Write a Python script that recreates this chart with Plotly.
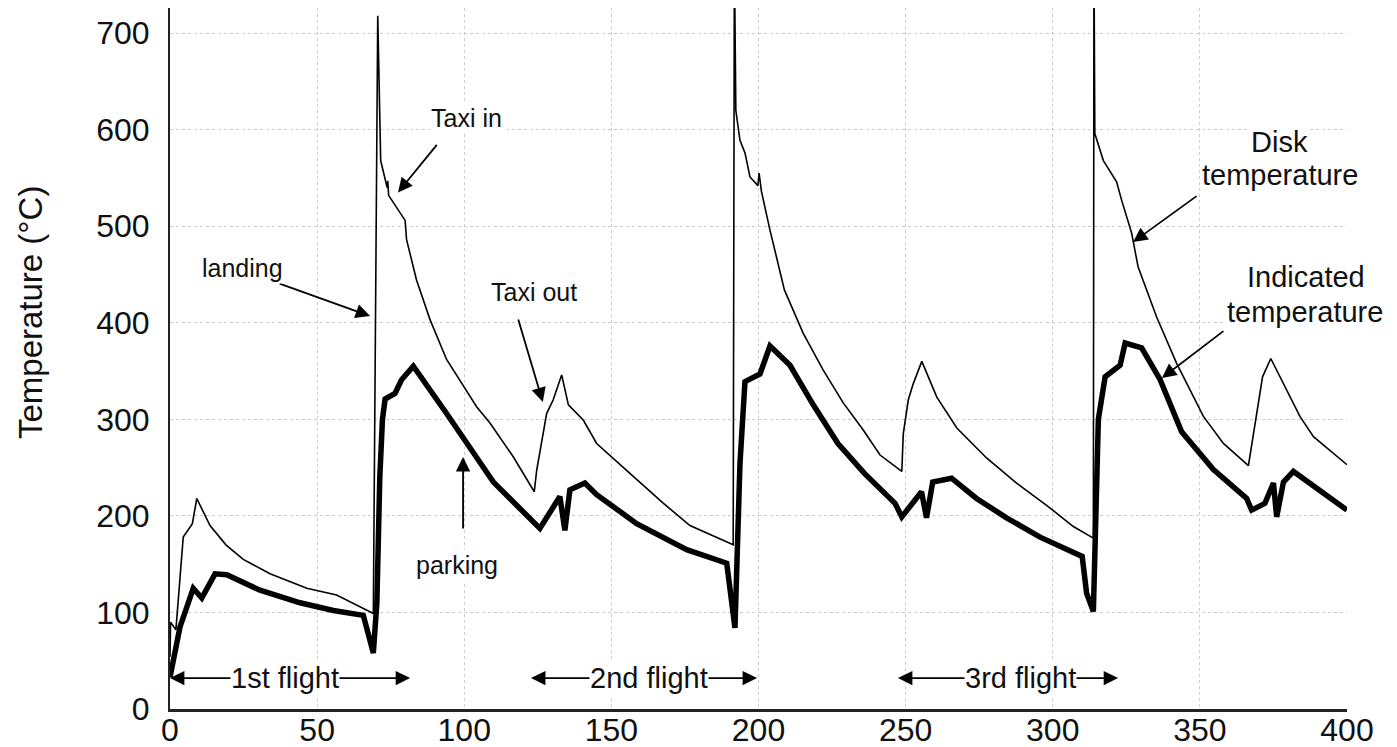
import plotly.graph_objects as go

# ---------------- data ----------------
disk_x = [0, 0.2, 2.0, 4.5, 7.6, 9.1, 13.6, 19.0, 24.9, 34.0, 46.5, 56.6, 69.1,
          70.6, 71.6, 73.8, 74.0, 74.3, 79.9, 80.4, 83.8, 88.4, 94.0, 100.8, 104.2,
          108.8, 116.7, 123.8, 124.6, 128.0, 130.2, 133.1, 135.4, 140.5, 145.0,
          156.3, 167.7, 176.7, 191.4, 191.8, 192.3, 193.7, 195.4, 197.1, 199.8,
          200.2, 201.0, 203.9, 208.8, 215.2, 222.0, 228.8, 235.6, 241.3, 248.7,
          249.2, 250.9, 252.6, 255.5, 260.6, 267.4, 277.5, 287.7, 297.9, 307.0,
          313.8, 314.0, 314.3, 317.2, 321.7, 323.4, 326.8, 329.0, 335.3, 342.1,
          351.2, 358.0, 366.5, 371.0, 371.3, 374.1, 379.5, 384.0, 388.6, 394.2, 400.0]
disk_y = [54, 90, 82, 178, 192, 218, 190, 170, 155, 140, 125, 118, 99,
          718, 568, 540, 547, 532, 506, 486, 444, 403, 362, 330, 313,
          296, 261, 225, 247, 306, 320, 346, 315, 299, 275,
          244, 213, 190, 170, 780, 620, 589, 576, 551, 542,
          555, 536, 496, 434, 389, 351, 317, 289, 263, 246,
          285, 320, 337, 360, 323, 291, 260, 234, 211, 189,
          177, 780, 596, 568, 546, 527, 493, 458, 406, 358,
          303, 275, 252, 341, 344, 363, 330, 303, 282, 268, 253]

ind_x = [0, 3.4, 7.9, 10.8, 15.3, 19.3, 30.6, 44.2, 55.5, 65.7, 69.1, 70.3, 71.3,
         72.2, 73.1, 76.5, 78.7, 82.7, 94.0, 109.9, 125.7, 132.5, 134.2, 135.9,
         141.0, 145.0, 158.6, 175.6, 189.2, 192.0, 193.7, 195.4, 200.5, 203.9,
         210.7, 218.6, 227.0, 236.0, 246.4, 248.7, 255.4, 257.1, 259.2, 265.6,
         274.1, 284.3, 295.7, 310.0, 311.5, 313.8, 315.5, 317.8, 322.9, 324.6,
         330.2, 336.5, 343.8, 354.6, 365.9, 367.6, 372.1, 375.0, 376.1, 378.4,
         381.8, 394.2, 400.0]
ind_y = [33, 85, 125, 115, 140, 139, 123, 110, 102, 97, 58, 110, 240,
         300, 321, 327, 341, 355, 306, 235, 187, 220, 185, 227,
         234, 222, 192, 165, 151, 84, 254, 339, 347, 376,
         356, 315, 275, 244, 213, 199, 225, 198, 235, 239,
         218, 198, 178, 158, 120, 101, 300, 344, 356, 379,
         374, 341, 287, 248, 218, 206, 213, 234, 199, 235,
         246, 218, 206]

x_ticks = [0, 50, 100, 150, 200, 250, 300, 350, 400]
y_ticks = [0, 100, 200, 300, 400, 500, 600, 700]

# labels with arrows: (text, text_x, text_y, tip_x, tip_y, tail_dx_px, tail_dy_px, size)
arrow_labels = [
    ("Taxi in", 100.6, 612.0, 77.5, 535.0, 40, -49, 25),
    ("landing", 24.8, 456.7, 68.0, 406.9, -92, -33, 25),
    ("Taxi out", 123.7, 431.8, 126.7, 317.9, -25, -84, 25),
    ("parking", 97.5, 149.1, 99.6, 260.9, 0, 73, 25),
]
side_labels = [("Disk", 376.9, 587.1), ("temperature", 377.2, 553.0),
               ("Indicated", 386.1, 447.3), ("temperature", 385.7, 411.1)]
side_arrows = [(327.3, 483.6, 65, -47), (337.1, 342.8, 63, -48)]

flights = [("1st flight", 39.1, 0.0, 81.6), ("2nd flight", 162.8, 122.7, 199.5),
           ("3rd flight", 288.9, 247.4, 322.2)]
flight_y = 32

FONT = "Liberation Sans, Arial, sans-serif"

fig = go.Figure()
fig.add_trace(go.Scatter(x=disk_x, y=disk_y, mode="lines",
                         line=dict(color="black", width=1.6), name="Disk temperature"))
fig.add_trace(go.Scatter(x=ind_x, y=ind_y, mode="lines",
                         line=dict(color="black", width=5.5), name="Indicated temperature"))

anns = []
arrow_style = dict(showarrow=True, arrowhead=2, arrowsize=1.6, arrowwidth=1.8,
                   arrowcolor="black", standoff=0, startstandoff=0, text="")
for (t, tx, ty, hx, hy, dx, dy, sz) in arrow_labels:
    anns.append(dict(x=hx, y=hy, ax=dx, ay=dy, axref="pixel", ayref="pixel", **arrow_style))
for (hx, hy, dx, dy) in side_arrows:
    anns.append(dict(x=hx, y=hy, ax=dx, ay=dy, axref="pixel", ayref="pixel", **arrow_style))
for (t, cx, lx, rx) in flights:
    for tip in (lx, rx):
        anns.append(dict(x=tip, y=flight_y, ax=cx, ay=flight_y, axref="x", ayref="y",
                         **arrow_style))
for (t, tx, ty, hx, hy, dx, dy, sz) in arrow_labels:
    anns.append(dict(x=tx, y=ty, text=t, showarrow=False, bgcolor="white",
                     font=dict(size=sz, color="#111", family=FONT)))
for (t, tx, ty) in side_labels:
    anns.append(dict(x=tx, y=ty, text=t, showarrow=False, bgcolor="white",
                     font=dict(size=29, color="#111", family=FONT)))
for (t, cx, lx, rx) in flights:
    anns.append(dict(x=cx, y=flight_y, text=t, showarrow=False, bgcolor="white",
                     borderpad=0, font=dict(size=29, color="#111", family=FONT)))

# y-axis title (placed as rotated text, as in the reference)
anns.append(dict(xref="paper", yref="paper", x=-0.118, y=0.565, xanchor="center",
                 yanchor="middle", text="Temperature (°C)", textangle=-90,
                 showarrow=False, font=dict(size=33, color="#111", family=FONT)))

fig.update_layout(
    width=1397, height=747,
    margin=dict(l=170, r=50, t=8, b=38, autoexpand=False),
    paper_bgcolor="white", plot_bgcolor="white",
    showlegend=False,
    annotations=anns,
    font=dict(family=FONT, color="#111"),
)
fig.update_xaxes(range=[0, 400], tickvals=x_ticks, ticktext=[str(v) for v in x_ticks],
                 showgrid=True, gridcolor="#cccccc", griddash="dot", gridwidth=1,
                 zeroline=False, showline=True, linecolor="#222", linewidth=3,
                 ticks="", tickfont=dict(size=32, family=FONT, color="#111"),
                 ticklabelstandoff=-9, automargin=False)
fig.update_yaxes(range=[0, 726], tickvals=y_ticks, ticktext=[str(v) for v in y_ticks],
                 showgrid=True, gridcolor="#cccccc", griddash="dot", gridwidth=1,
                 zeroline=False, showline=True, linecolor="#222", linewidth=2,
                 ticks="", tickfont=dict(size=32, family=FONT, color="#111"),
                 ticklabelstandoff=12, automargin=False)

fig.write_html("out.html")
